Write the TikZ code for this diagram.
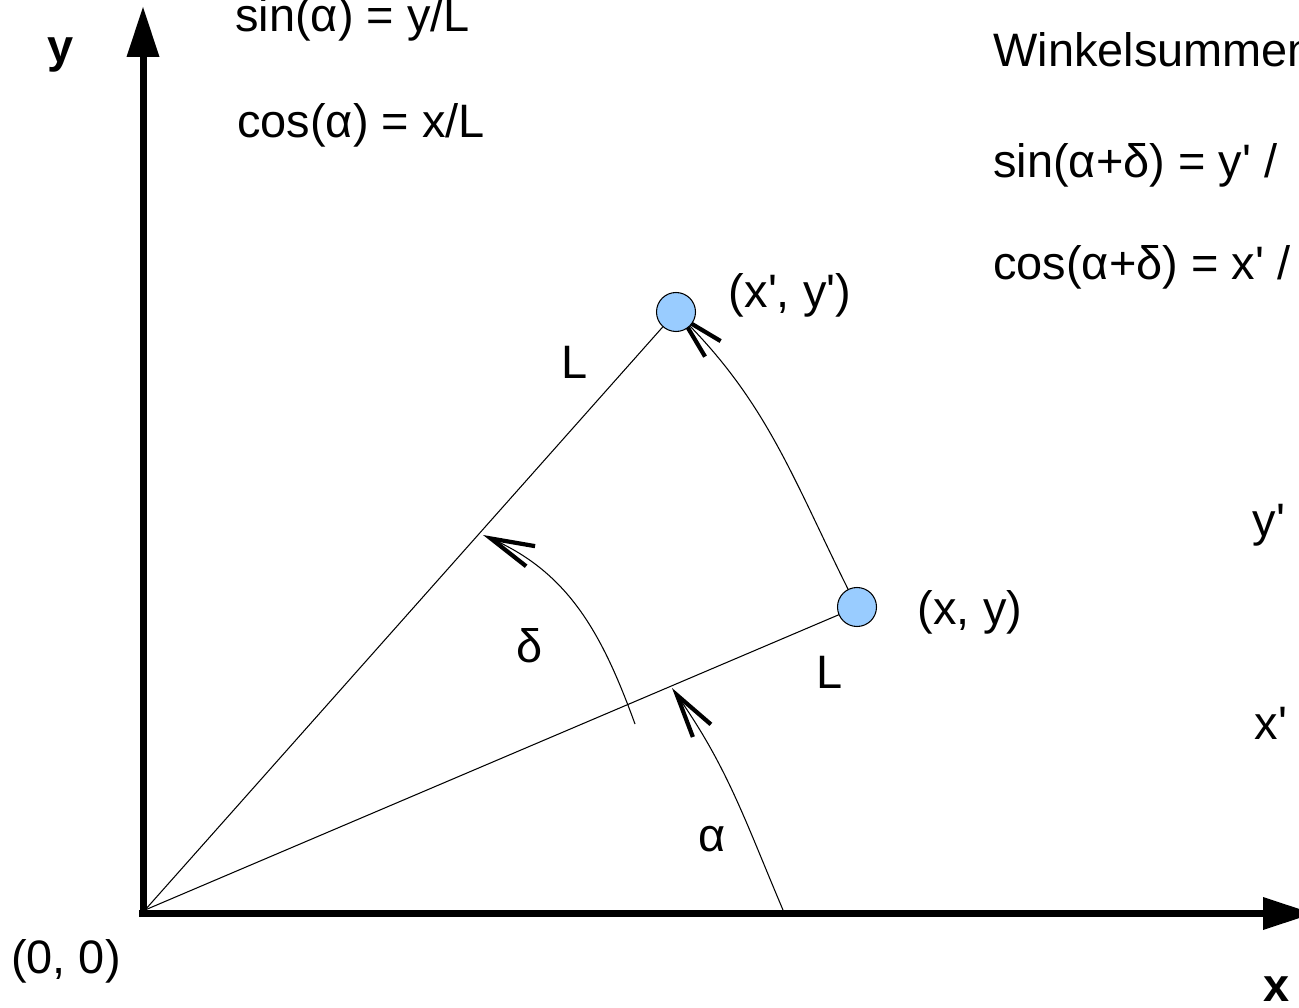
\documentclass[tikz,border=0pt]{standalone}
\usepackage{fontspec}
\setmainfont{Liberation Sans}[Ligatures=TeXOff]
\usetikzlibrary{arrows.meta}
\definecolor{punktblau}{HTML}{99CCFF}

\begin{document}
\begin{tikzpicture}[
    font={\fontsize{26.7pt}{32pt}\selectfont},
    achse/.style={line width=0.14cm, line cap=butt, -{Triangle[length=1cm, width=0.66cm, line width=0pt]}},
    linie/.style={line width=0.6pt},
    pfeil/.style={line width=0.6pt, -{Straight Barb[length=0.87cm, width=0.44cm, line width=2.4pt]}},
    punkt/.style={circle, draw, line width=0.6pt, fill=punktblau, minimum size=0.78cm, inner sep=0pt},
    formel/.style={anchor=base west, inner sep=0pt}
]

% Bildausschnitt (rechts abgeschnitten wie im Original)
\useasboundingbox (-2.9,-1.94) rectangle (23.08,18.2);
\clip (-2.9,-1.94) rectangle (23.08,18.2);

% Ursprung und die beiden Punkte
\coordinate (O)     at (0,0);
\coordinate (xy)    at (14.24,6.06);
\coordinate (xyneu) at (10.62,11.96);

% --- Achsen ---
\coordinate (x_start) at (-0.12,-0.07);
\coordinate (x_end)   at (23.36,-0.07);
\coordinate (y_start) at (-0.04,-0.14);
\coordinate (y_end)   at (-0.04,18.06);
\draw[achse] (x_start) -- (x_end);
\draw[achse] (y_start) -- (y_end);

\node[font={\fontsize{26.7pt}{32pt}\selectfont\bfseries}] (ylabel) at (-1.68,17.1) {y};
\node[font={\fontsize{26.7pt}{32pt}\selectfont\bfseries}] (xlabel) at (22.64,-1.58) {x};
\node (ursprung) at (-1.58,-1.02) {(0, 0)};

% --- Strahlen der Länge L ---
\draw[linie] (O) -- (xy);
\draw[linie] (O) -- (xyneu);
\node (L1) at (8.6,10.96) {L};
\node (L2) at (13.7,4.76) {L};

% --- Winkelpfeile ---
\coordinate (a_start) at (12.76,0);
\coordinate (a_tip)   at (10.54,4.44);
\draw[pfeil] (a_start) to[out=113, in=-55] (a_tip);
\node (alpha) at (11.34,1.42) {α};

\coordinate (d_start) at (9.8,3.72);
\coordinate (d_tip)   at (6.76,7.5);
\draw[pfeil] (d_start) to[out=110, in=-24] (d_tip);
\node (delta) at (7.7,5.28) {δ};

% Drehung von (x, y) nach (x', y')
\draw[pfeil] (xy) to[out=117, in=-45] (xyneu);

% Punkte über die Linien legen
\node[punkt] (p)    at (xy) {};
\node[punkt] (pneu) at (xyneu) {};
\node (p_label)    at (16.5,5.96) {(x, y)};
\node (pneu_label) at (12.9,12.3) {(x\textquotesingle, y\textquotesingle)};

% --- Formeln ---
\node[formel] (sina)  at (1.8,17.56)  {sin(α) = y/L};
\node[formel] (cosa)  at (1.84,15.44) {cos(α) = x/L};
\node[formel] (titel) at (16.96,16.86) {Winkelsummen};
\node[formel] (sinad) at (16.96,14.64) {sin(α+δ) = y\textquotesingle{} /};
\node[formel] (cosad) at (16.96,12.6)  {cos(α+δ) = x\textquotesingle{} /};

\node (yneu) at (22.48,7.7)  {y\textquotesingle};
\node (xneu) at (22.52,3.74) {x\textquotesingle};

\end{tikzpicture}
\end{document}
